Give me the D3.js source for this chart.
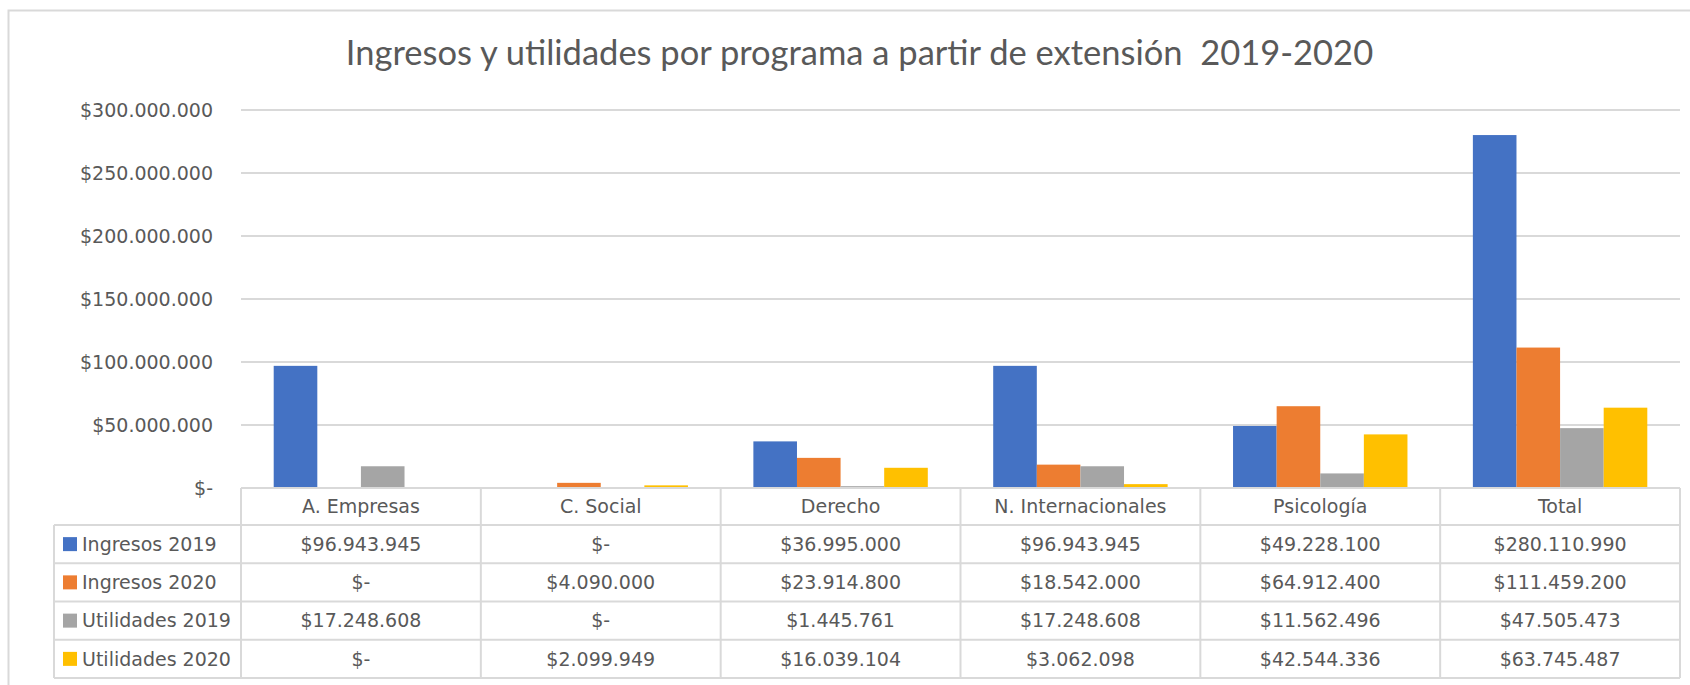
<!DOCTYPE html>
<html>
<head>
<meta charset="utf-8">
<script src="https://cdn.jsdelivr.net/npm/d3@7"></script>
<style>
  html, body { margin: 0; padding: 0; background: #ffffff; }
  svg { display: block; }
</style>
</head>
<body>
<div id="chart"></div>
<script>
// Programs (categories) and the four series shown in the data table
const categories = ["A. Empresas", "C. Social", "Derecho", "N. Internacionales", "Psicología", "Total"];
const seriesNames = ["Ingresos 2019", "Ingresos 2020", "Utilidades 2019", "Utilidades 2020"];
const ingresos2019   = [96943945, 0, 36995000, 96943945, 49228100, 280110990];
const ingresos2020   = [0, 4090000, 23914800, 18542000, 64912400, 111459200];
const utilidades2019 = [17248608, 0, 1445761, 17248608, 11562496, 47505473];
const utilidades2020 = [0, 2099949, 16039104, 3062098, 42544336, 63745487];
const seriesColors = ["#4472C4", "#ED7D31", "#A5A5A5", "#FFC000"];
const yTicks = [0, 50000000, 100000000, 150000000, 200000000, 250000000, 300000000];
const titleText = "Ingresos y utilidades por programa a partir de extensión  2019-2020";

const seriesValues = [ingresos2019, ingresos2020, utilidades2019, utilidades2020];

const W = 1690, H = 685;
const plot = { left: 241, right: 1680, top: 110, bottom: 488 };
const tableBottom = 678, headerBottom = 525, legendLeft = 54;
const gridColor = "#D9D9D9", textColor = "#595959";
const numFont = "'DejaVu Sans', sans-serif";

// Colombian-style money format: $ prefix, dot as thousands separator, "$-" for zero
const locale = d3.formatLocale({ decimal: ",", thousands: ".", grouping: [3], currency: ["$", ""] });
const money = v => v === 0 ? "$-" : locale.format("$,.0f")(v);

const svg = d3.select("#chart").append("svg")
  .attr("width", W).attr("height", H);

svg.append("rect").attr("width", W).attr("height", H).attr("fill", "#ffffff");

// Chart area frame
svg.append("rect")
  .attr("x", 8.5).attr("y", 10.5)
  .attr("width", W).attr("height", H)
  .attr("fill", "none").attr("stroke", gridColor).attr("stroke-width", 2);

// Title
svg.append("text")
  .attr("x", (349 + 1370) / 2).attr("y", 65)
  .attr("text-anchor", "middle")
  .style("white-space", "pre")
  .attr("font-family", "Lato, sans-serif")
  .attr("font-size", 34.5)
  .attr("fill", textColor)
  .text(titleText);

// Scales
const x = d3.scaleBand().domain(categories).range([plot.left, plot.right]).paddingInner(0).paddingOuter(0);
const y = d3.scaleLinear().domain([0, 300000000]).range([plot.bottom, plot.top]);
const gapRatio = 1.5; // gap between clusters as a fraction of one bar width
const barW = x.bandwidth() / (seriesNames.length + gapRatio);
const xs = d3.scaleBand().domain(seriesNames)
  .range([barW * gapRatio / 2, barW * gapRatio / 2 + barW * seriesNames.length]);

// Gridlines
svg.append("g").selectAll("line").data(yTicks).join("line")
  .attr("x1", plot.left).attr("x2", plot.right)
  .attr("y1", d => y(d)).attr("y2", d => y(d))
  .attr("stroke", gridColor).attr("stroke-width", 2);

// Y axis labels
const yAxis = d3.axisLeft(y).tickValues(yTicks).tickFormat(money).tickSize(0).tickPadding(0);
const yg = svg.append("g").attr("transform", `translate(213,0)`).call(yAxis);
yg.select(".domain").remove();
yg.selectAll("text")
  .attr("font-family", numFont).attr("font-size", 19)
  .attr("fill", textColor).attr("dy", "0.35em");

// Bars
const groups = svg.append("g").selectAll("g").data(categories).join("g")
  .attr("transform", d => `translate(${x(d)},0)`);
groups.selectAll("rect")
  .data((c, ci) => seriesNames.map((s, si) => ({ s, v: seriesValues[si][ci], color: seriesColors[si] })))
  .join("rect")
  .attr("x", d => xs(d.s))
  .attr("width", xs.bandwidth())
  .attr("y", d => y(d.v))
  .attr("height", d => y(0) - y(d.v))
  .attr("fill", d => d.color);

// Data table
const rows = d3.scaleBand().domain(seriesNames).range([headerBottom, tableBottom]);
const table = svg.append("g");
const line = (x1, y1, x2, y2) => table.append("line")
  .attr("x1", x1).attr("y1", y1).attr("x2", x2).attr("y2", y2)
  .attr("stroke", gridColor).attr("stroke-width", 2);

// horizontal rules
line(plot.left, plot.bottom, plot.right, plot.bottom);
seriesNames.forEach(s => line(legendLeft, rows(s), plot.right, rows(s)));
line(legendLeft, tableBottom, plot.right, tableBottom);
// vertical rules
line(legendLeft, headerBottom, legendLeft, tableBottom);
categories.forEach(c => line(x(c), plot.bottom, x(c), tableBottom));
line(plot.right, plot.bottom, plot.right, tableBottom);

// header labels
table.selectAll("text.head").data(categories).join("text")
  .attr("class", "head")
  .attr("x", d => x(d) + x.bandwidth() / 2)
  .attr("y", (plot.bottom + headerBottom) / 2)
  .attr("dy", "0.35em").attr("text-anchor", "middle")
  .attr("font-family", numFont).attr("font-size", 19).attr("fill", textColor)
  .text(d => d);

// legend keys and row names
seriesNames.forEach((s, si) => {
  const cy = rows(s) + rows.bandwidth() / 2;
  table.append("rect")
    .attr("x", 63).attr("y", cy - 7).attr("width", 14).attr("height", 14)
    .attr("fill", seriesColors[si]);
  table.append("text")
    .attr("x", 82).attr("y", cy).attr("dy", "0.35em")
    .attr("font-family", numFont).attr("font-size", 19).attr("fill", textColor)
    .text(s);
  table.append("g").selectAll("text").data(categories).join("text")
    .attr("x", c => x(c) + x.bandwidth() / 2)
    .attr("y", cy).attr("dy", "0.35em").attr("text-anchor", "middle")
    .attr("font-family", numFont).attr("font-size", 19).attr("fill", textColor)
    .text((c, ci) => money(seriesValues[si][ci]));
});
</script>
</body>
</html>
